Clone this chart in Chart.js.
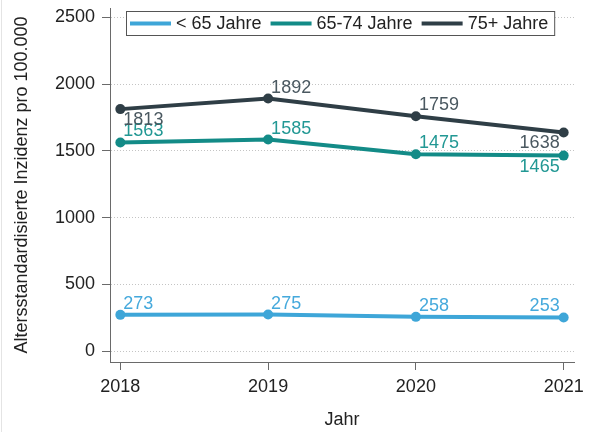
<!DOCTYPE html>
<html>
<head>
<meta charset="utf-8">
<script src="https://cdn.jsdelivr.net/npm/chart.js@4"></script>
<style>
  html, body { margin: 0; padding: 0; background: #fff; }
  #wrap { width: 591px; height: 432px; position: relative; }
</style>
</head>
<body>
<div id="wrap"><canvas id="chart" width="591" height="432"></canvas></div>
<script>
// Daten
const years = [2018, 2019, 2020, 2021];
const under65 = [273, 275, 258, 253];
const age65to74 = [1563, 1585, 1475, 1465];
const age75plus = [1813, 1892, 1759, 1638];
const seriesNames = ["< 65 Jahre", "65-74 Jahre", "75+ Jahre"];
const yTicks = [0, 500, 1000, 1500, 2000, 2500];

const FONT = "'Liberation Sans', Arial, sans-serif";
const lineColors = ["#3ea6d8", "#138b87", "#2f3e46"];
const labelColors = ["#45a9dc", "#229894", "#4a5860"];
// Lage der Wertelabels: ar = oben rechts, br = unten rechts, bl = unten links, al = oben links
const labelPos = [
  ["ar", "ar", "ar", "al"],
  ["ar", "ar", "ar", "bl"],
  ["br", "ar", "ar", "bl"],
];

function toPoints(values) {
  return years.map((y, i) => ({ x: y, y: values[i] }));
}

const valueLabels = {
  id: "valueLabels",
  afterDatasetsDraw(chart) {
    const ctx = chart.ctx;
    ctx.save();
    ctx.font = "18px " + FONT;
    ctx.textBaseline = "middle";
    chart.data.datasets.forEach((ds, di) => {
      const meta = chart.getDatasetMeta(di);
      meta.data.forEach((pt, i) => {
        const pos = labelPos[di][i];
        const txt = String(ds.data[i].y);
        ctx.fillStyle = labelColors[di];
        ctx.textAlign = pos[1] === "r" ? "left" : "right";
        const x = pt.x + (pos[1] === "r" ? 3 : -4);
        const y = pt.y + (pos[0] === "a" ? -11 : 11);
        ctx.fillText(txt, x, y);
      });
    });
    ctx.restore();
  },
};

const boxLegend = {
  id: "boxLegend",
  afterDraw(chart) {
    const ctx = chart.ctx;
    ctx.save();
    ctx.font = "18px " + FONT;
    const left = 126, top = 11, h = 24;
    let x = left + 4;
    const items = chart.data.datasets.map((ds, i) => {
      const w = ctx.measureText(ds.label).width;
      const it = { x: x, w: w, color: lineColors[i], label: ds.label };
      x += 41 + 5 + w + 9;
      return it;
    });
    const right = x - 9 + 6;
    ctx.fillStyle = "#fff";
    ctx.fillRect(left, top, right - left, h);
    ctx.strokeStyle = "#555";
    ctx.lineWidth = 1;
    ctx.strokeRect(left + 0.5, top + 0.5, right - left, h);
    const cy = top + h / 2 + 0.5;
    items.forEach((it) => {
      ctx.strokeStyle = it.color;
      ctx.lineWidth = 4;
      ctx.beginPath();
      ctx.moveTo(it.x, cy);
      ctx.lineTo(it.x + 41, cy);
      ctx.stroke();
      ctx.fillStyle = "#222";
      ctx.textAlign = "left";
      ctx.textBaseline = "middle";
      ctx.fillText(it.label, it.x + 46, cy + 1);
    });
    // dezenter Rahmen links
    ctx.strokeStyle = "#e4e4e4";
    ctx.lineWidth = 1;
    ctx.beginPath();
    ctx.moveTo(1.5, 0);
    ctx.lineTo(1.5, 432);
    ctx.stroke();
    ctx.restore();
  },
};

const ctx = document.getElementById("chart").getContext("2d");
new Chart(ctx, {
  type: "line",
  data: {
    datasets: [under65, age65to74, age75plus].map((vals, i) => ({
      label: seriesNames[i],
      data: toPoints(vals),
      borderColor: lineColors[i],
      backgroundColor: lineColors[i],
      borderWidth: 4,
      pointRadius: 5,
      pointHoverRadius: 5,
      pointBorderWidth: 0,
      tension: 0,
    })),
  },
  options: {
    responsive: false,
    animation: false,
    layout: { padding: { top: 8, right: 17, left: 0, bottom: 0 } },
    plugins: { legend: { display: false }, tooltip: { enabled: false } },
    scales: {
      x: {
        type: "linear",
        min: 2017.93,
        max: 2021.07,
        afterBuildTicks: (s) => { s.ticks = years.map((v) => ({ value: v })); },
        afterFit: (s) => { s.height = 70; s.paddingLeft = 0; s.paddingRight = 0; },
        ticks: {
          callback: (v) => String(v),
          color: "#222",
          font: { family: FONT, size: 18 },
          padding: 6,
          maxRotation: 0,
        },
        grid: {
          drawOnChartArea: false,
          drawTicks: true,
          tickLength: 8,
          tickColor: "#6a6a6a",
          tickWidth: 1,
        },
        border: { display: true, color: "#6a6a6a", width: 1 },
        title: {
          display: true,
          text: "Jahr",
          color: "#222",
          font: { family: FONT, size: 18 },
          padding: { top: 0, bottom: 1 },
        },
      },
      y: {
        min: -80,
        max: 2570,
        afterBuildTicks: (s) => { s.ticks = yTicks.map((v) => ({ value: v })); },
        afterFit: (s) => { s.width = 110; s.paddingTop = 0; s.paddingBottom = 0; },
        ticks: {
          callback: (v) => String(v),
          color: "#222",
          font: { family: FONT, size: 18 },
          padding: 7,
        },
        grid: {
          drawOnChartArea: true,
          drawTicks: true,
          tickLength: 8,
          color: "#c4c4c4",
          lineWidth: 1,
          tickColor: "#6a6a6a",
          tickWidth: 1,
          tickBorderDash: [],
        },
        border: { display: true, color: "#6a6a6a", width: 1, dash: [1, 2] },
        title: {
          display: true,
          text: "Altersstandardisierte Inzidenz pro 100.000",
          color: "#222",
          font: { family: FONT, size: 18 },
          padding: { top: 11, bottom: 0 },
        },
      },
    },
  },
  plugins: [valueLabels, boxLegend],
});
</script>
</body>
</html>
